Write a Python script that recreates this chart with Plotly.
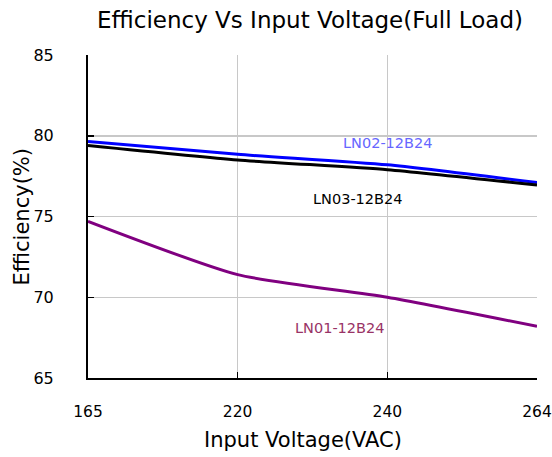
import plotly.graph_objects as go

voltages = ["165", "220", "240", "264"]
ln02 = [79.65, 78.85, 78.2, 77.1]
ln03 = [79.4, 78.5, 77.9, 76.95]
ln01 = [74.7, 71.4, 70.0, 68.2]
series_names = ["LN02-12B24", "LN03-12B24", "LN01-12B24"]

FONT = "DejaVu Sans"
W, H = 552, 457

fig = go.Figure()
fig.add_trace(go.Scatter(x=voltages, y=ln02, mode="lines", name=series_names[0],
                         line=dict(color="#0000FF", width=3, shape="spline", smoothing=0.6)))
fig.add_trace(go.Scatter(x=voltages, y=ln03, mode="lines", name=series_names[1],
                         line=dict(color="#000000", width=3, shape="spline", smoothing=0.6)))
fig.add_trace(go.Scatter(x=voltages, y=ln01, mode="lines", name=series_names[2],
                         line=dict(color="#800080", width=3, shape="spline", smoothing=0.6)))

fig.add_annotation(x=2, y=79.55, text=series_names[0], showarrow=False,
                   font=dict(family=FONT, size=14.5, color="#6666FF"))
fig.add_annotation(x=1.8, y=76.1, text=series_names[1], showarrow=False,
                   font=dict(family=FONT, size=14.5, color="#000000"))
fig.add_annotation(x=1.68, y=68.1, text=series_names[2], showarrow=False,
                   font=dict(family=FONT, size=14.5, color="#993366"))

# axis titles placed as paper annotations to match the reference positions
fig.add_annotation(x=0.478, y=-0.192, xref="paper", yref="paper",
                   text="Input Voltage(VAC)", showarrow=False,
                   xanchor="center", yanchor="middle",
                   font=dict(family=FONT, size=21, color="#000000"))
fig.add_annotation(x=-0.147, y=0.5, xref="paper", yref="paper",
                   text="Efficiency(%)", showarrow=False, textangle=-90,
                   xanchor="center", yanchor="middle",
                   font=dict(family=FONT, size=21, color="#000000"))

fig.update_layout(
    width=W, height=H,
    margin=dict(l=88, r=15, t=55, b=79, autoexpand=False),
    paper_bgcolor="white", plot_bgcolor="white",
    showlegend=False,
    title=dict(text="Efficiency Vs Input Voltage(Full Load)", x=310 / W, xanchor="center",
               y=1 - 20 / H, yanchor="middle", yref="container",
               font=dict(family=FONT, size=23, color="#000000")),
    font=dict(family=FONT, color="#000000"),
)
fig.update_xaxes(
    type="category", range=[0, 3], automargin=False,
    tickfont=dict(family=FONT, size=15.5, color="#000000"),
    showgrid=True, gridcolor="#C8C8C8", gridwidth=1.5,
    showline=True, linecolor="#000000", linewidth=2,
    ticks="inside", ticklen=6, tickcolor="#000000", tickwidth=1.5,
    ticklabelstandoff=18,
    zeroline=False,
)
fig.update_yaxes(
    range=[65, 85], dtick=5, automargin=False,
    tickfont=dict(family=FONT, size=16, color="#000000"),
    showgrid=True, gridcolor="#C8C8C8", gridwidth=1.5,
    showline=True, linecolor="#000000", linewidth=2,
    ticks="inside", ticklen=6, tickcolor="#000000", tickwidth=1.5,
    ticklabelstandoff=29,
    zeroline=False,
)

fig.write_html("out.html",
               config={"displayModeBar": False, "staticPlot": True},
               post_script="document.body.style.margin='0';document.body.style.overflow='hidden';")
